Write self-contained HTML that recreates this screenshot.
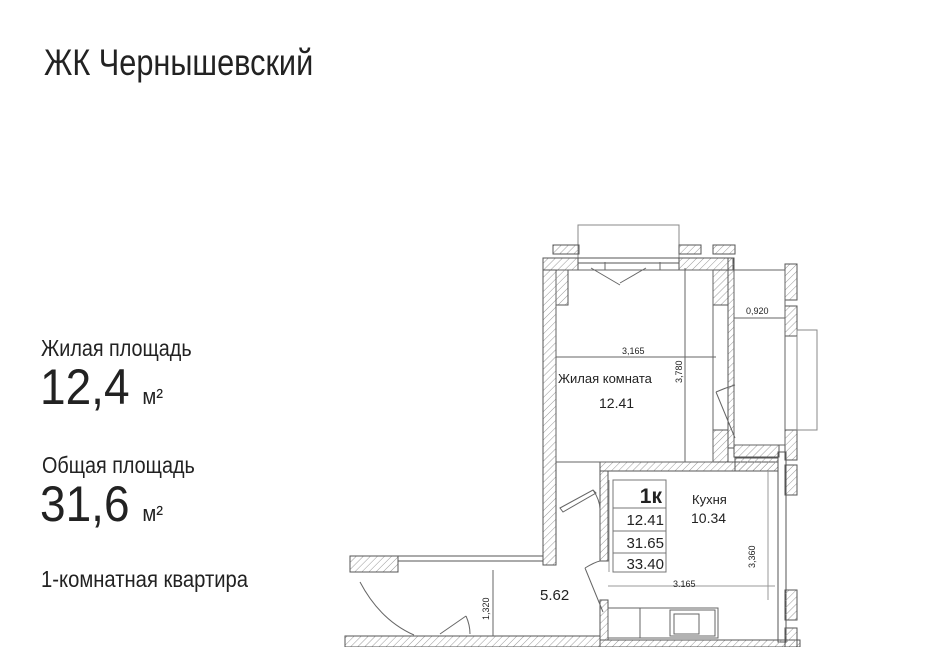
<!DOCTYPE html>
<html><head><meta charset="utf-8"><style>
html,body{margin:0;padding:0;background:#fff;width:936px;height:647px;overflow:hidden;position:relative}
.t{position:absolute;font-family:"Liberation Sans Narrow","Liberation Sans","Noto Sans CJK SC",sans-serif;color:#222;white-space:nowrap;line-height:1;transform:scaleX(0.83);transform-origin:0 0}
</style></head><body>
<div class="t" style="left:44px;top:44px;font-size:37px">ЖК Чернышевский</div>
<div class="t" style="left:41px;top:337px;font-size:23px;transform:scaleX(0.86)">Жилая площадь</div>
<div class="t" style="left:40px;top:362px;font-size:50px;transform:scaleX(0.92)">12,4 <span style="font-size:22px">м²</span></div>
<div class="t" style="left:42px;top:454px;font-size:23px;transform:scaleX(0.86)">Общая площадь</div>
<div class="t" style="left:40px;top:479px;font-size:50px;transform:scaleX(0.92)">31,6 <span style="font-size:22px">м²</span></div>
<div class="t" style="left:41px;top:568px;font-size:23px;transform:scaleX(0.88)">1-комнатная квартира</div>

<svg width="936" height="647" style="position:absolute;left:0;top:0" font-family="Liberation Sans, sans-serif">
<defs><pattern id="h" width="5" height="5" patternUnits="userSpaceOnUse" patternTransform="rotate(45)"><line x1="0" y1="0" x2="0" y2="5" stroke="#999" stroke-width="1"/></pattern></defs>
<g stroke="#555" stroke-width="1" fill="url(#h)">
<rect x="578" y="225" width="101" height="33" fill="none" stroke="#888"/>
<rect x="553" y="245" width="26" height="9"/><rect x="679" y="245" width="22" height="9"/><rect x="713" y="245" width="22" height="9"/>
<rect x="543" y="258" width="35" height="12"/><rect x="679" y="258" width="54" height="12"/>
<rect x="578" y="258" width="101" height="5" fill="none"/>
<rect x="543" y="270" width="13" height="295"/>
<rect x="556" y="270" width="12" height="35"/>
<rect x="713" y="270" width="15" height="35"/><rect x="728" y="258" width="6" height="190"/>
<rect x="713" y="430" width="15" height="32"/>
<rect x="734" y="445" width="45" height="12"/>
<rect x="785" y="264" width="12" height="36"/><rect x="785" y="306" width="12" height="30"/><rect x="785" y="430" width="12" height="30"/><rect x="785" y="465" width="12" height="30"/>
<rect x="797" y="330" width="20" height="100" fill="none" stroke="#888"/>
<rect x="778" y="452" width="8" height="190" fill="none"/>
<rect x="600" y="462" width="178" height="9"/><rect x="600" y="471" width="8" height="90"/><rect x="600" y="600" width="8" height="40"/>
<rect x="735" y="458" width="43" height="13"/>
<rect x="350" y="556" width="48" height="16"/><rect x="398" y="556" width="145" height="5" fill="none"/>
<rect x="345" y="636" width="255" height="11"/><rect x="600" y="640" width="200" height="7"/>
<rect x="785" y="590" width="12" height="30"/><rect x="785" y="628" width="12" height="19"/>
</g>
<g stroke="#666" fill="none" stroke-width="1">
<rect x="556" y="270" width="157" height="192"/>
<line x1="685" y1="268" x2="685" y2="462"/>
<line x1="556" y1="357" x2="716" y2="357"/>
<line x1="734" y1="318" x2="785" y2="318"/>
<rect x="734" y="270" width="51" height="175"/>
<path d="M591 268 L620 285 M646 268 L620 283 M605 262 L605 270 M660 262 L660 270"/>
<path d="M716 392 L735 438 M716 392 Q725 388 735 385"/>
<path d="M560 508 L593 490 L596 493 L563 512 Z M593 490 Q600 500 600 510"/>
<path d="M585 568 L603 612 M585 568 Q595 562 600 561"/>
<path d="M360 582 Q380 620 414 635"/>
<path d="M440 634 L466 616 M466 616 Q470 625 470 634"/>
<line x1="493" y1="570" x2="493" y2="636"/>
<rect x="608" y="608" width="110" height="30"/><line x1="640" y1="608" x2="640" y2="638"/>
<rect x="670" y="610" width="45" height="26"/><rect x="674" y="614" width="25" height="20"/>
<line x1="608" y1="586" x2="775" y2="586" stroke="#999"/>
<line x1="768" y1="470" x2="768" y2="600" stroke="#999"/>
<line x1="609" y1="480" x2="609" y2="572" stroke="#999"/>
</g>
<rect x="613" y="480" width="53" height="92" fill="none" stroke="#777"/>
<line x1="613" y1="508" x2="666" y2="508" stroke="#777"/><line x1="613" y1="531" x2="666" y2="531" stroke="#777"/><line x1="613" y1="553" x2="666" y2="553" stroke="#777"/>
<g fill="#222" font-size="13">
<text x="662" y="503" font-size="21" font-weight="bold" text-anchor="end">1к</text>
<text x="664" y="525" font-size="15" text-anchor="end">12.41</text>
<text x="664" y="548" font-size="15" text-anchor="end">31.65</text>
<text x="664" y="569" font-size="15" text-anchor="end">33.40</text>
<text x="692" y="504">Кухня</text>
<text x="691" y="523" font-size="14">10.34</text>
<text x="558" y="383">Жилая комната</text>
<text x="599" y="408" font-size="14">12.41</text>
<text x="540" y="600" font-size="15">5.62</text>
<text x="622" y="354" font-size="9">3,165</text>
<text x="746" y="314" font-size="9">0,920</text>
<text x="673" y="587" font-size="9">3.165</text>
<text transform="translate(682,383) rotate(-90)" font-size="9">3,780</text>
<text transform="translate(755,568) rotate(-90)" font-size="9">3,360</text>
<text transform="translate(489,620) rotate(-90)" font-size="9">1,320</text>
</g>
</svg>
</body></html>
